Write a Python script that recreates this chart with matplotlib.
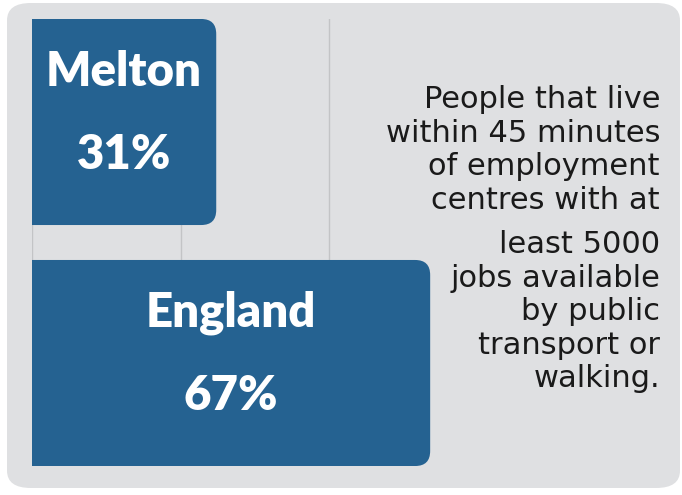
import matplotlib
matplotlib.use("Agg")
import matplotlib.pyplot as plt
from matplotlib.patches import FancyBboxPatch

# data
areas = ["England", "Melton"]
shares = [67, 31]
note_top = "People that live\nwithin 45 minutes\nof employment\ncentres with at"
note_bottom = "least 5000\njobs available\nby public\ntransport or\nwalking."

bar_color = "#256291"
panel_color = "#dfe0e2"

fig = plt.figure(figsize=(6.82, 4.95), dpi=100)
fig.patch.set_facecolor("white")

# rounded grey panel behind everything
panel = FancyBboxPatch((7 / 682, 7 / 495), 673 / 682, 485 / 495,
                       boxstyle="round,pad=0,rounding_size=0.035",
                       transform=fig.transFigure, facecolor=panel_color,
                       edgecolor="none", zorder=-1)
fig.patches.append(panel)

ax = fig.add_axes([32 / 682, 29 / 495, 416 / 682, 447 / 495])
ax.set_zorder(1)
ax.set_facecolor("none")
ax.set_xlim(0, 70)
ax.set_ylim(-0.4274, 1.4274)

bar_h = 0.855
px_x = 416 / 70          # pixels per x unit
px_y = 447 / 1.8548      # pixels per y unit
radius = 15 / px_x

for i, (name, val) in enumerate(zip(areas, shares)):
    # start left of the axis so the left corners get clipped square
    box = FancyBboxPatch((-5, i - bar_h / 2), val + 5, bar_h,
                         boxstyle=f"round,pad=0,rounding_size={radius}",
                         mutation_aspect=px_x / px_y,
                         facecolor=bar_color, edgecolor="none", zorder=3)
    ax.add_patch(box)
    ax.annotate(name, (val / 2, i), xytext=(0, 50), textcoords="offset pixels",
                ha="center", va="center", color="white", fontsize=34,
                family="Lato", fontweight="heavy", zorder=4)
    ax.annotate(f"{val}%", (val / 2, i), xytext=(0, -33), textcoords="offset pixels",
                ha="center", va="center", color="white", fontsize=34,
                family="Lato", fontweight="heavy", zorder=4)

ax.set_xticks([0, 25, 50])
ax.set_yticks([])
ax.grid(axis="x", color="#c3c4c6", linewidth=1, zorder=1)
ax.tick_params(length=0, labelbottom=False)
for s in ax.spines.values():
    s.set_visible(False)

fig.text(660 / 682, 1 - 85 / 495, note_top, ha="right", va="top",
         fontsize=22, family="DejaVu Sans", color="#1a1a1a", linespacing=1.2)
fig.text(660 / 682, 1 - 230 / 495, note_bottom, ha="right", va="top",
         fontsize=22, family="DejaVu Sans", color="#1a1a1a", linespacing=1.2)

fig.savefig("out.png", dpi=100)
